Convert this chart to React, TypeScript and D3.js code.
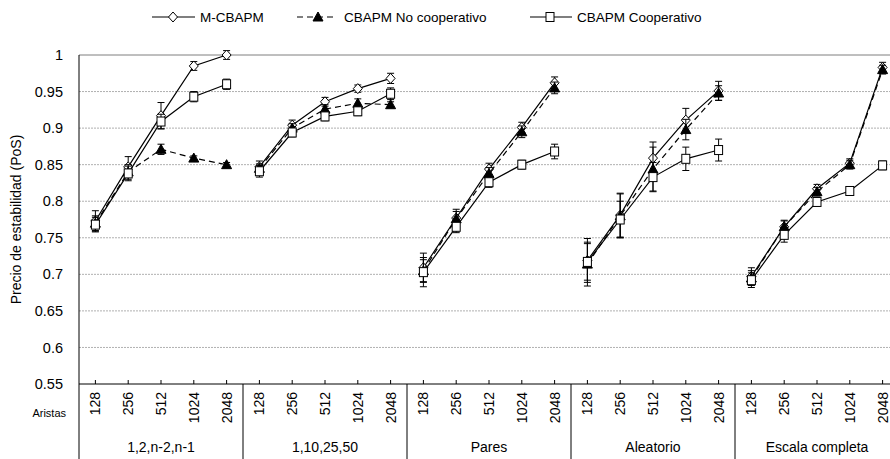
import React from "react";
import * as d3 from "d3";

const categories = ["128", "256", "512", "1024", "2048"];
const groups = ["1,2,n-2,n-1", "1,10,25,50", "Pares", "Aleatorio", "Escala completa"];
const yTicks = [0.55, 0.6, 0.65, 0.7, 0.75, 0.8, 0.85, 0.9, 0.95, 1];

const mcbapm = [
  0.773, 0.847, 0.917, 0.985, 1.0,
  0.847, 0.904, 0.936, 0.954, 0.968,
  0.709, 0.777, 0.844, 0.901, 0.962,
  0.719, 0.781, 0.859, 0.911, 0.951,
  0.697, 0.765, 0.817, 0.852, 0.983,
];
const mcbapmErr = [
  0.014, 0.014, 0.018, 0.006, 0.006,
  0.008, 0.007, 0.006, 0.005, 0.007,
  0.02, 0.012, 0.008, 0.007, 0.008,
  0.03, 0.03, 0.022, 0.016, 0.013,
  0.012, 0.009, 0.006, 0.006, 0.007,
];
const noCoop = [
  0.77, 0.84, 0.871, 0.859, 0.85,
  0.845, 0.9, 0.926, 0.934, 0.932,
  0.705, 0.776, 0.838, 0.895, 0.955,
  0.714, 0.78, 0.844, 0.898, 0.948,
  0.695, 0.765, 0.813, 0.85, 0.98,
];
const noCoopErr = [
  0.01, 0.01, 0.007, 0.003, 0.003,
  0.006, 0.006, 0.006, 0.006, 0.004,
  0.015, 0.01, 0.008, 0.008, 0.008,
  0.03, 0.03, 0.03, 0.014, 0.01,
  0.01, 0.008, 0.006, 0.006, 0.006,
];
const coop = [
  0.768, 0.838, 0.909, 0.943, 0.96,
  0.841, 0.894, 0.916, 0.923, 0.947,
  0.703, 0.765, 0.826, 0.85, 0.868,
  0.717, 0.775, 0.833, 0.858, 0.87,
  0.692, 0.754, 0.799, 0.814, 0.849,
];
const coopErr = [
  0.01, 0.01, 0.01, 0.007, 0.007,
  0.008, 0.006, 0.006, 0.006, 0.008,
  0.02, 0.008, 0.007, 0.006, 0.01,
  0.025, 0.025, 0.02, 0.016, 0.015,
  0.01, 0.01, 0.006, 0.006, 0.006,
];

const seriesNames = ["M-CBAPM", "CBAPM No cooperativo", "CBAPM Cooperativo"];

const W = 890;
const H = 459;
const left = 79;
const top = 55;
const bottom = 384;
const nCat = groups.length * categories.length;
const catW = 32.8;
const right = left + nCat * catW;
const FONT = "'Liberation Sans', Arial, sans-serif";

function Marker({ kind, x, y }: { kind: string; x: number; y: number }) {
  if (kind === "diamond") {
    const p = d3.path();
    p.moveTo(x, y - 5);
    p.lineTo(x + 4.5, y);
    p.lineTo(x, y + 5);
    p.lineTo(x - 4.5, y);
    p.closePath();
    return <path d={p.toString()} fill="#fff" stroke="#000" strokeWidth={1} />;
  }
  if (kind === "triangle") {
    const p = d3.path();
    p.moveTo(x, y - 5);
    p.lineTo(x + 5, y + 4);
    p.lineTo(x - 5, y + 4);
    p.closePath();
    return <path d={p.toString()} fill="#000" stroke="#000" strokeWidth={1} />;
  }
  return <rect x={x - 4} y={y - 4.5} width={8} height={9} fill="#fff" stroke="#000" strokeWidth={1} />;
}

export default function App() {
  const y = d3.scaleLinear().domain([0.55, 1]).range([bottom, top]);
  const x = d3
    .scaleBand<number>()
    .domain(d3.range(nCat))
    .range([left, right])
    .padding(0);
  const cx = (i: number) => (x(i) as number) + x.bandwidth() / 2;

  const series = [
    { name: seriesNames[0], vals: mcbapm, err: mcbapmErr, kind: "diamond", dash: "" },
    { name: seriesNames[1], vals: noCoop, err: noCoopErr, kind: "triangle", dash: "6,4" },
    { name: seriesNames[2], vals: coop, err: coopErr, kind: "square", dash: "" },
  ];

  const line = d3
    .line<number>()
    .x((_, i) => 0)
    .y((v) => y(v));

  const groupPath = (vals: number[], g: number) => {
    const idx = d3.range(g * categories.length, (g + 1) * categories.length);
    const l = d3
      .line<number>()
      .x((i) => cx(i))
      .y((i) => y(vals[i]));
    return l(idx) || "";
  };

  const legendItems = [
    { x1: 152, x2: 195, mx: 173, tx: 200, kind: "diamond", dash: "" },
    { x1: 297, x2: 337, mx: 318, tx: 344, kind: "triangle", dash: "6,4" },
    { x1: 530, x2: 572, mx: 550, tx: 577, kind: "square", dash: "" },
  ];

  return (
    <svg
      width={W}
      height={H}
      style={{ position: "absolute", left: 0, top: 0, background: "#fff" }}
      fontFamily={FONT}
    >
      <rect x={0} y={0} width={W} height={H} fill="#fff" />
      {/* gridlines */}
      {yTicks.map((t) =>
        t === 1 || t === 0.55 ? null : (
          <line
            key={"g" + t}
            x1={left}
            x2={right}
            y1={y(t)}
            y2={y(t)}
            stroke="#b0b0b0"
            strokeWidth={1}
            strokeDasharray="2,1"
          />
        )
      )}
      {/* top border */}
      <line x1={left} x2={right} y1={y(1)} y2={y(1)} stroke="#7f7f7f" strokeWidth={1} />
      {/* y tick labels */}
      {yTicks.map((t) => (
        <text
          key={"yl" + t}
          x={63}
          y={y(t)}
          dy="0.35em"
          textAnchor="end"
          fontSize={14.5}
          fill="#000"
        >
          {t === 1 ? "1" : t.toString()}
        </text>
      ))}
      {/* y axis title */}
      <text
        transform={`translate(21,${(top + bottom) / 2}) rotate(-90)`}
        textAnchor="middle"
        fontSize={14}
        fill="#000"
      >
        Precio de estabilidad (PoS)
      </text>
      {/* axes */}
      <line x1={left} x2={left} y1={top} y2={H} stroke="#000" strokeWidth={1} />
      <line x1={left} x2={right} y1={bottom} y2={bottom} stroke="#000" strokeWidth={1} />
      {d3.range(nCat).map((i) => (
        <line key={"tk" + i} x1={cx(i)} x2={cx(i)} y1={bottom - 4} y2={bottom} stroke="#000" />
      ))}
      {d3.range(1, groups.length).map((g) => (
        <line
          key={"sep" + g}
          x1={x(g * categories.length) as number}
          x2={x(g * categories.length) as number}
          y1={bottom}
          y2={H}
          stroke="#000"
        />
      ))}
      {/* category labels */}
      {d3.range(nCat).map((i) => (
        <text
          key={"cl" + i}
          transform={`translate(${cx(i)},${bottom + 8}) rotate(-90)`}
          textAnchor="end"
          dy="0.35em"
          fontSize={14}
          fill="#000"
        >
          {categories[i % categories.length]}
        </text>
      ))}
      <text x={66} y={417} textAnchor="end" fontSize={11} fill="#000">
        Aristas
      </text>
      {groups.map((g, gi) => (
        <text
          key={"gl" + gi}
          x={(x(gi * categories.length) as number) + (catW * categories.length) / 2}
          y={447}
          dy="0.35em"
          textAnchor="middle"
          fontSize={14}
          fill="#000"
        >
          {g}
        </text>
      ))}
      {/* series */}
      {series.map((s, si) => (
        <g key={"s" + si}>
          {groups.map((_, g) => (
            <path
              key={"p" + g}
              d={groupPath(s.vals, g)}
              fill="none"
              stroke="#000"
              strokeWidth={1.2}
              strokeDasharray={s.dash}
            />
          ))}
          {s.vals.map((v, i) => (
            <g key={"e" + i}>
              <line x1={cx(i)} x2={cx(i)} y1={y(v - s.err[i])} y2={y(v + s.err[i])} stroke="#000" />
              <line x1={cx(i) - 3.5} x2={cx(i) + 3.5} y1={y(v - s.err[i])} y2={y(v - s.err[i])} stroke="#000" />
              <line x1={cx(i) - 3.5} x2={cx(i) + 3.5} y1={y(v + s.err[i])} y2={y(v + s.err[i])} stroke="#000" />
            </g>
          ))}
          {s.vals.map((v, i) => (
            <Marker key={"m" + i} kind={s.kind} x={cx(i)} y={y(v)} />
          ))}
        </g>
      ))}
      {/* legend */}
      {legendItems.map((l, i) => (
        <g key={"lg" + i}>
          <line x1={l.x1} x2={l.x2} y1={17} y2={17} stroke="#000" strokeWidth={1.2} strokeDasharray={l.dash} />
          <Marker kind={l.kind} x={l.mx} y={17} />
          <text x={l.tx} y={17} dy="0.35em" fontSize={13.5} fill="#000">
            {seriesNames[i]}
          </text>
        </g>
      ))}
    </svg>
  );
}
